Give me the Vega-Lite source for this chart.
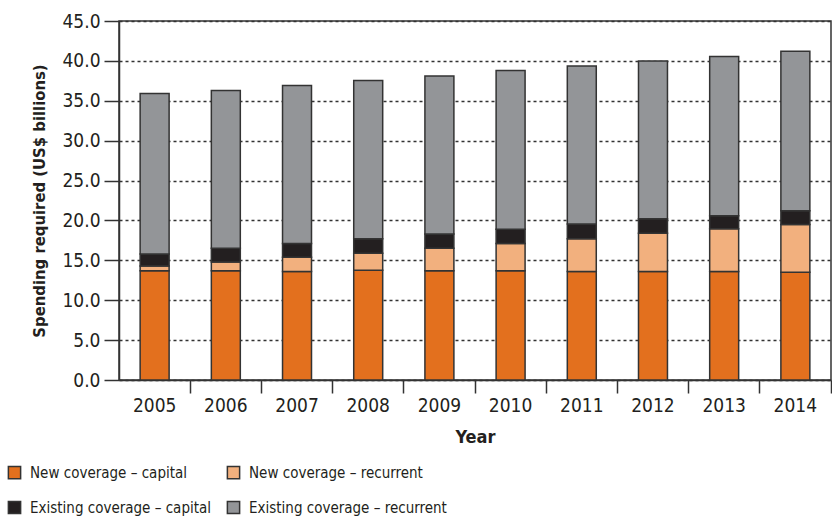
{
  "$schema": "https://vega.github.io/schema/vega-lite/v6.json",
  "width": 712,
  "height": 359,
  "autosize": {"type": "none"},
  "padding": {"left": 119, "top": 21, "right": 1, "bottom": 138},
  "background": "white",
  "config": {
    "font": "'Liberation Sans Narrow', 'DejaVu Sans Condensed', sans-serif",
    "view": {"stroke": "#333333", "strokeWidth": 1.5}
  },
  "data": {
    "values": [
      {"year": "2005", "category": "New coverage – capital", "ord": 1, "value": 13.7},
      {"year": "2005", "category": "New coverage – recurrent", "ord": 2, "value": 0.6},
      {"year": "2005", "category": "Existing coverage – capital", "ord": 3, "value": 1.5},
      {"year": "2005", "category": "Existing coverage – recurrent", "ord": 4, "value": 20.1},
      {"year": "2006", "category": "New coverage – capital", "ord": 1, "value": 13.7},
      {"year": "2006", "category": "New coverage – recurrent", "ord": 2, "value": 1.1},
      {"year": "2006", "category": "Existing coverage – capital", "ord": 3, "value": 1.7},
      {"year": "2006", "category": "Existing coverage – recurrent", "ord": 4, "value": 19.8},
      {"year": "2007", "category": "New coverage – capital", "ord": 1, "value": 13.6},
      {"year": "2007", "category": "New coverage – recurrent", "ord": 2, "value": 1.8},
      {"year": "2007", "category": "Existing coverage – capital", "ord": 3, "value": 1.7},
      {"year": "2007", "category": "Existing coverage – recurrent", "ord": 4, "value": 19.8},
      {"year": "2008", "category": "New coverage – capital", "ord": 1, "value": 13.75},
      {"year": "2008", "category": "New coverage – recurrent", "ord": 2, "value": 2.15},
      {"year": "2008", "category": "Existing coverage – capital", "ord": 3, "value": 1.8},
      {"year": "2008", "category": "Existing coverage – recurrent", "ord": 4, "value": 19.85},
      {"year": "2009", "category": "New coverage – capital", "ord": 1, "value": 13.7},
      {"year": "2009", "category": "New coverage – recurrent", "ord": 2, "value": 2.8},
      {"year": "2009", "category": "Existing coverage – capital", "ord": 3, "value": 1.8},
      {"year": "2009", "category": "Existing coverage – recurrent", "ord": 4, "value": 19.8},
      {"year": "2010", "category": "New coverage – capital", "ord": 1, "value": 13.7},
      {"year": "2010", "category": "New coverage – recurrent", "ord": 2, "value": 3.4},
      {"year": "2010", "category": "Existing coverage – capital", "ord": 3, "value": 1.8},
      {"year": "2010", "category": "Existing coverage – recurrent", "ord": 4, "value": 19.9},
      {"year": "2011", "category": "New coverage – capital", "ord": 1, "value": 13.6},
      {"year": "2011", "category": "New coverage – recurrent", "ord": 2, "value": 4.1},
      {"year": "2011", "category": "Existing coverage – capital", "ord": 3, "value": 1.85},
      {"year": "2011", "category": "Existing coverage – recurrent", "ord": 4, "value": 19.8},
      {"year": "2012", "category": "New coverage – capital", "ord": 1, "value": 13.6},
      {"year": "2012", "category": "New coverage – recurrent", "ord": 2, "value": 4.8},
      {"year": "2012", "category": "Existing coverage – capital", "ord": 3, "value": 1.8},
      {"year": "2012", "category": "Existing coverage – recurrent", "ord": 4, "value": 19.8},
      {"year": "2013", "category": "New coverage – capital", "ord": 1, "value": 13.6},
      {"year": "2013", "category": "New coverage – recurrent", "ord": 2, "value": 5.35},
      {"year": "2013", "category": "Existing coverage – capital", "ord": 3, "value": 1.65},
      {"year": "2013", "category": "Existing coverage – recurrent", "ord": 4, "value": 19.95},
      {"year": "2014", "category": "New coverage – capital", "ord": 1, "value": 13.5},
      {"year": "2014", "category": "New coverage – recurrent", "ord": 2, "value": 6.0},
      {"year": "2014", "category": "Existing coverage – capital", "ord": 3, "value": 1.7},
      {"year": "2014", "category": "Existing coverage – recurrent", "ord": 4, "value": 20.0}
    ]
  },
  "mark": {"type": "bar", "stroke": "#333333", "strokeWidth": 1.5},
  "encoding": {
    "x": {
      "field": "year",
      "type": "nominal",
      "scale": {"paddingInner": 0.593, "paddingOuter": 0.297},
      "axis": {
        "title": "Year",
        "titleFontSize": 18,
        "titleFontWeight": "bold",
        "titleColor": "#231f20",
        "titlePadding": 13,
        "labelAngle": 0,
        "labelFontSize": 19,
        "labelColor": "#231f20",
        "labelPadding": 3,
        "bandPosition": 1.73,
        "tickSize": 13,
        "tickColor": "#333333",
        "tickWidth": 1.5,
        "domainColor": "#333333",
        "domainWidth": 1.5,
        "grid": false
      }
    },
    "y": {
      "field": "value",
      "type": "quantitative",
      "stack": "zero",
      "scale": {"domain": [0, 45], "nice": false},
      "axis": {
        "title": "Spending required (US$ billions)",
        "titleFontSize": 16.5,
        "titleFontWeight": "bold",
        "titleColor": "#231f20",
        "titlePadding": 14,
        "values": [0, 5, 10, 15, 20, 25, 30, 35, 40, 45],
        "format": ".1f",
        "labelFontSize": 19,
        "labelColor": "#231f20",
        "labelPadding": 4,
        "tickSize": 15,
        "tickColor": "#333333",
        "tickWidth": 1.5,
        "domainColor": "#333333",
        "domainWidth": 1.5,
        "grid": true,
        "gridColor": "#333333",
        "gridDash": [3, 3],
        "gridWidth": 1.3
      }
    },
    "color": {
      "field": "category",
      "type": "nominal",
      "scale": {
        "domain": ["New coverage – capital", "New coverage – recurrent", "Existing coverage – capital", "Existing coverage – recurrent"],
        "range": ["#e3701e", "#f2b07e", "#231f20", "#939598"]
      },
      "legend": {
        "title": null,
        "orient": "none",
        "legendX": -112,
        "legendY": 444,
        "direction": "horizontal",
        "columns": 2,
        "columnPadding": 12,
        "rowPadding": 16,
        "symbolType": "square",
        "symbolSize": 150,
        "symbolStrokeColor": "#333333",
        "symbolStrokeWidth": 1.5,
        "symbolOpacity": 1,
        "labelFontSize": 15,
        "labelColor": "#231f20",
        "labelOffset": 8,
        "labelLimit": 400
      }
    },
    "order": {"field": "ord", "type": "quantitative"}
  }
}
